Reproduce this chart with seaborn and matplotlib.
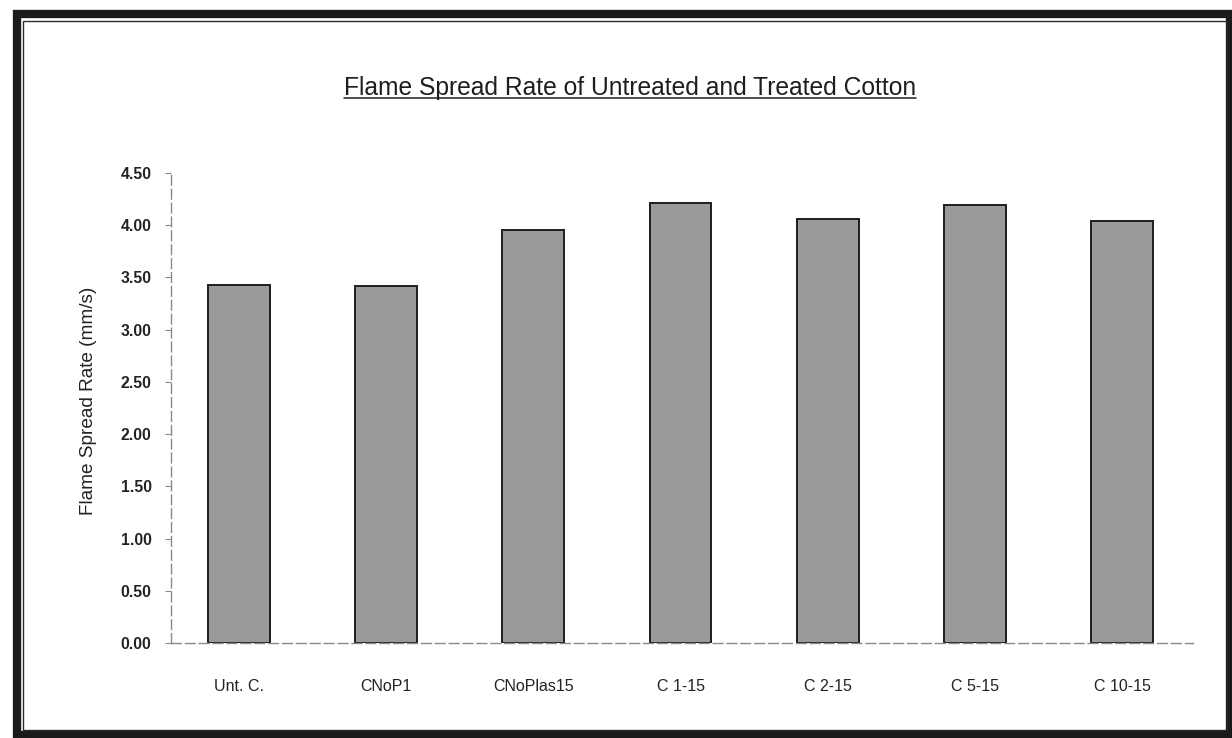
import matplotlib
matplotlib.use("Agg")
import matplotlib.pyplot as plt
from matplotlib.patches import Rectangle
from matplotlib.lines import Line2D
import seaborn as sns

# Flame spread rate per sample (mm/s)
samples = ["Unt. C.", "CNoP1", "CNoPlas15", "C 1-15", "C 2-15", "C 5-15", "C 10-15"]
spread_rate = [3.43, 3.42, 3.95, 4.21, 4.06, 4.19, 4.04]
y_ticks = [0.0, 0.5, 1.0, 1.5, 2.0, 2.5, 3.0, 3.5, 4.0, 4.5]

title_text = "Flame Spread Rate of Untreated and Treated Cotton"
y_label = "Flame Spread Rate (mm/s)"

sns.set_theme(style="white")
plt.rcParams["font.family"] = ["Liberation Sans", "DejaVu Sans"]

W, H = 1232, 738
fig = plt.figure(figsize=(W / 100, H / 100), dpi=100)
fig.patch.set_facecolor("white")


def px(x, y):
    return x / W, 1 - y / H


# plot area: y axis at x=171, zero line at y=643, 4.50 at y=173
left, bottom = 171 / W, (H - 643) / H
ax = fig.add_axes([left, bottom, 1022 / W, (643 - 173) / H])

sns.barplot(x=samples, y=spread_rate, color="#9a9a9a", saturation=1,
            edgecolor="#1e1e1e", linewidth=1.4, width=0.42, ax=ax)

ax.set_xlim(-0.46, 6.48)
ax.set_ylim(0, 4.5)
ax.set_yticks(y_ticks)
ax.set_yticklabels([f"{v:.2f}" for v in y_ticks])
ax.set_xlabel("")
ax.set_ylabel(y_label, fontsize=13.7, color="#222222")
ax.yaxis.set_label_coords(-0.072, 0.515)

for s in ["top", "right"]:
    ax.spines[s].set_visible(False)
for s in ["left", "bottom"]:
    ax.spines[s].set_color("#8a8a8a")
    ax.spines[s].set_linewidth(1.0)
    ax.spines[s].set_linestyle((0, (7, 3)))

ax.tick_params(axis="y", direction="out", length=4, width=0.8, color="#8a8a8a",
               labelsize=11.3, labelcolor="#222222", pad=10, left=True)
ax.tick_params(axis="x", length=0, labelsize=11.5, labelcolor="#222222", pad=26)
for lab in ax.get_yticklabels():
    lab.set_fontweight("bold")
ax.grid(False)

# title with underline
tx, ty = px(630, 88)
title = fig.text(tx, ty, title_text, ha="center", va="center", fontsize=17.7,
                 color="#1e1e1e")
fig.canvas.draw()
bb = title.get_window_extent().transformed(fig.transFigure.inverted())
uy = bb.y0 + 0.1 * (bb.y1 - bb.y0)
fig.add_artist(Line2D([bb.x0, bb.x1], [uy, uy], transform=fig.transFigure,
                      color="#1e1e1e", linewidth=1.1))

# double frame around the figure
ox0, oy0 = px(17, 735)
ox1, oy1 = px(1230, 14)
fig.add_artist(Rectangle((ox0, oy0), ox1 - ox0, oy1 - oy0, transform=fig.transFigure,
                         fill=False, edgecolor="#1a1a1a", linewidth=6))
ix0, iy0 = px(23, 730)
ix1, iy1 = px(1227, 21)
fig.add_artist(Rectangle((ix0, iy0), ix1 - ix0, iy1 - iy0, transform=fig.transFigure,
                         fill=False, edgecolor="#2a2a2a", linewidth=1.0))

fig.savefig("out.png", dpi=100)
